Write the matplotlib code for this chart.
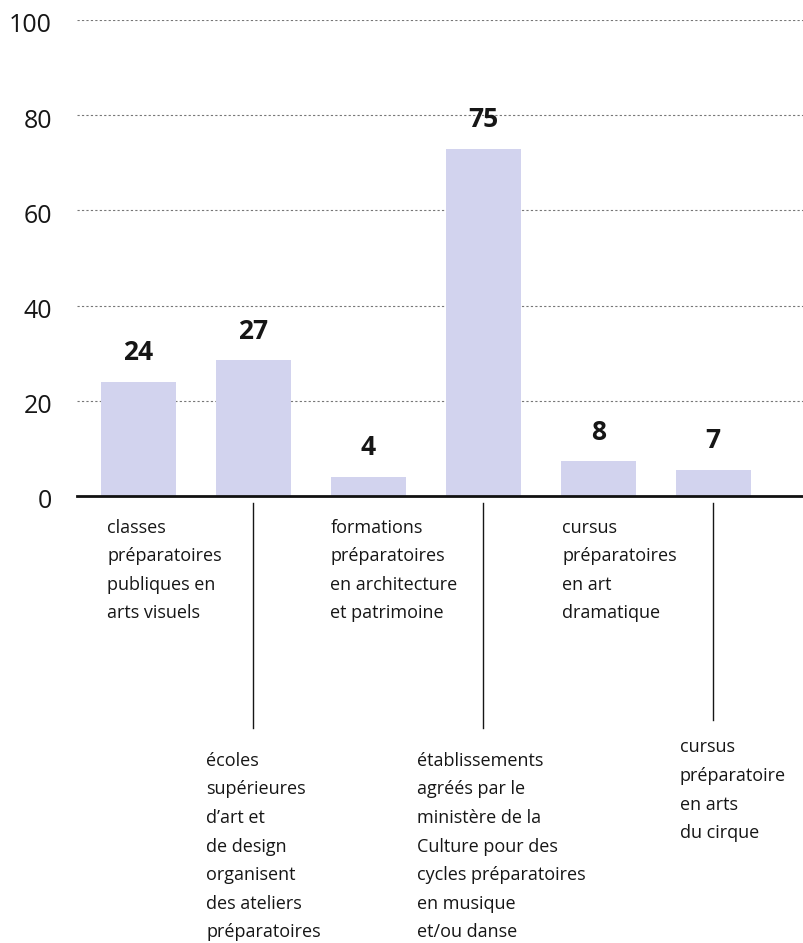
import numpy as np
import matplotlib
matplotlib.use("Agg")
import matplotlib.pyplot as plt
from matplotlib.transforms import blended_transform_factory, ScaledTranslation

plt.rcParams['font.family'] = ['Open Sans', 'DejaVu Sans']

# données
categories = [
    "classes\npréparatoires\npubliques en\narts visuels",
    "écoles\nsupérieures\nd’art et\nde design\norganisent\ndes ateliers\npréparatoires",
    "formations\npréparatoires\nen architecture\net patrimoine",
    "établissements\nagréés par le\nministère de la\nCulture pour des\ncycles préparatoires\nen musique\net/ou danse",
    "cursus\npréparatoires\nen art\ndramatique",
    "cursus\npréparatoire\nen arts\ndu cirque",
]
hauteurs = [24, 28.5, 4, 73, 7.3, 5.5]
etiquettes = ["24", "27", "4", "75", "8", "7"]
yticks = [0, 20, 40, 60, 80, 100]

# mise en page des libellés (décalage x, position haute ou basse)
decalage_x = [-0.27, -0.41, -0.33, -0.575, -0.315, -0.29]
en_bas = [False, True, False, True, False, True]

W, H = 804, 943
fig = plt.figure(figsize=(W / 100, H / 100), dpi=100)
ax = fig.add_axes([77 / W, 1 - 496 / H, 727 / W, 476 / H])

x = np.arange(len(hauteurs))
ax.bar(x, hauteurs, width=0.65, color='#d2d3ee', zorder=2)

ax.set_xlim(-0.534, 5.79)
ax.set_ylim(0, 100)
ax.set_yticks(yticks)
ax.set_xticks([])
ax.tick_params(axis='y', length=0, pad=18, labelsize=18, labelcolor='#161616')
decale = ScaledTranslation(0, -0.06, fig.dpi_scale_trans)
for lab in ax.get_yticklabels():
    lab.set_verticalalignment('center')
    lab.set_transform(lab.get_transform() + decale)

ax.grid(axis='y', linestyle=(0, (2, 2)), linewidth=0.8, color='#777777', zorder=0)
for s in ['top', 'right', 'left']:
    ax.spines[s].set_visible(False)
ax.spines['bottom'].set_linewidth(2)
ax.spines['bottom'].set_color('#111111')
ax.spines['bottom'].set_zorder(3)

# valeurs au-dessus des barres
for xi, h, t in zip(x, hauteurs, etiquettes):
    ax.annotate(t, (xi, h), xytext=(0, 21), textcoords='offset points',
                ha='center', va='center', fontsize=19, fontweight='bold',
                color='#161616')

# libellés des catégories, avec traits de rappel pour ceux du bas
tr = blended_transform_factory(ax.transData, ax.transAxes)
for xi, cat, dx, bas in zip(x, categories, decalage_x, en_bas):
    if bas:
        y_fin = -0.47 if xi == len(x) - 1 else -0.487
        y_txt = -0.509 if xi == len(x) - 1 else -0.537
        ax.plot([xi, xi], [-0.015, y_fin], color='#161616', linewidth=1,
                transform=tr, clip_on=False)
        interligne = 1.76
    else:
        y_txt = -0.048
        interligne = 1.75
    ax.text(xi + dx, y_txt, cat, transform=tr, ha='left', va='top',
            fontsize=13, linespacing=interligne, color='#161616')

fig.savefig("out.png", dpi=100, facecolor='white')
